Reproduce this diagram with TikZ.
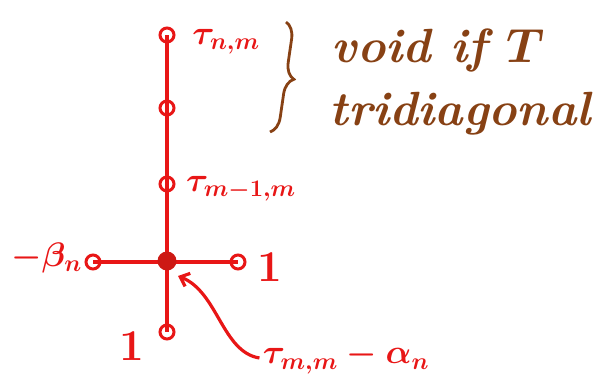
\RequirePackage{fix-cm}
\documentclass[tikz,border=0pt]{standalone}
\usepackage{amsmath}
\usepackage{tikz}
\usetikzlibrary{arrows.meta, decorations.pathreplacing}

\definecolor{inkred}{RGB}{232,22,22}
\definecolor{inkdot}{RGB}{205,25,20}
\definecolor{inkbrown}{RGB}{135,65,20}

\begin{document}
\begin{tikzpicture}[x=1pt, y=-1pt,
    ring/.style={circle, draw=inkred, line width=3pt, minimum size=14pt, inner sep=0pt},
    hub/.style={circle, fill=inkdot, minimum size=19pt, inner sep=0pt},
    bond/.style={inkred, line width=3.2pt},
    lbl/.style={text=inkred, font=\fontsize{34}{40}\selectfont\boldmath},
    one/.style={text=inkred, font=\fontsize{44}{50}\selectfont\bfseries},
    note/.style={text=inkbrown, font=\fontsize{48}{56}\selectfont\bfseries\itshape\boldmath}]
      \useasboundingbox (0,0) rectangle (605,383);

      % Stencil points
      \node[ring] (top) at (167, 35) {};
      \node[ring] (up2) at (167, 108) {};
      \node[ring] (up1) at (167, 184) {};
      \node[ring] (west) at (93, 262) {};
      \node[ring] (east) at (238, 262) {};
      \node[ring] (south) at (167, 332) {};

      % Arms of the stencil
      \draw[bond] (top.center) -- (south.center);
      \draw[bond] (west.center) -- (east.center);
      \node[hub] (mid) at (167, 261) {};

      % Weights
      \node[lbl] (wtop) at (226, 42) {$\tau_{n,m}$};
      \node[lbl] (wup1) at (241, 189) {$\tau_{m-1,m}$};
      \node[lbl, anchor=east, inner sep=0pt] (wwest) at (82, 258) {$-\beta_n$};
      \node[one] (weast) at (270, 267) {1};
      \node[one] (wsouth) at (132, 346) {1};
      \node[lbl] (wmid) at (346, 358) {$\tau_{m,m}-\alpha_n$};

      % Pointer to the centre weight
      \coordinate (tip) at (178, 276);
      \draw[bond, -{Straight Barb[length=8pt, width=14pt]}] (wmid.west) .. controls (222, 352) and (218, 292) .. (tip);

      % Brace and remark
      \draw[inkbrown, line width=2.8pt, decorate, decoration={brace, amplitude=16pt, mirror}] (270, 132) -- (286, 22);
      \node[note, anchor=base west] (rem1) at (328, 62) {void if $T$};
      \node[note, anchor=base west] (rem2) at (326, 125) {tridiagonal};
\end{tikzpicture}
\end{document}
